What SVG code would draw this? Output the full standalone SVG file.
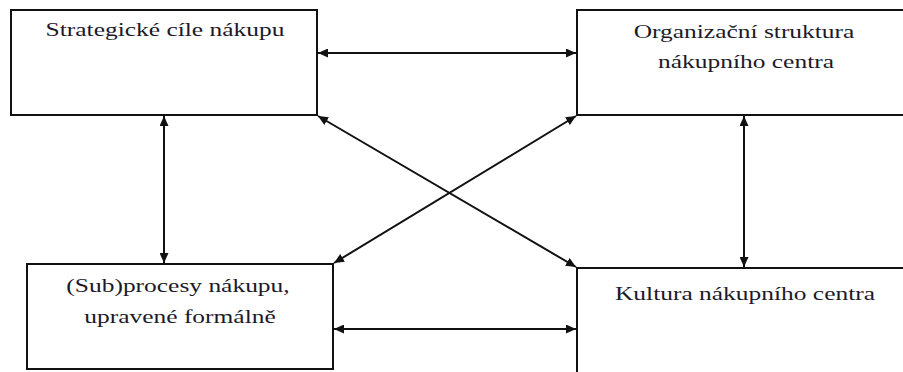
<svg xmlns="http://www.w3.org/2000/svg" width="903" height="372" viewBox="0 0 903 372">
  <style>
    .box { fill: #ffffff; stroke: #111111; stroke-width: 2; }
    .lbl { font-family: "Liberation Serif", "Times New Roman", serif; font-size: 19px; fill: #1c1a2a; text-anchor: middle; }
    .conn { stroke: #111111; stroke-width: 2; fill: none; marker-start: url(#head); marker-end: url(#head); }
  </style>
  <defs>
    <marker id="head" markerUnits="userSpaceOnUse" markerWidth="11" markerHeight="9" refX="10" refY="4.5" orient="auto-start-reverse">
      <path d="M0,0 L10,4.5 L0,9 z" fill="#111111"/>
    </marker>
  </defs>
  <rect width="903" height="372" fill="#ffffff"/>

  <!-- boxes; labels are set in a horizontally widened serif -->
  <g id="strategicke-cile">
    <rect class="box" x="11" y="10" width="306" height="105"/>
    <text class="lbl" transform="translate(165,36) scale(1.34,1)">Strategické cíle nákupu</text>
  </g>
  <g id="organizacni-struktura">
    <rect class="box" x="577" y="10" width="340" height="105"/>
    <text class="lbl" transform="translate(744,38) scale(1.34,1)">Organizační struktura</text>
    <text class="lbl" transform="translate(746,68) scale(1.34,1)">nákupního centra</text>
  </g>
  <g id="subprocesy">
    <rect class="box" x="27" y="264" width="306" height="105"/>
    <text class="lbl" transform="translate(178,292) scale(1.34,1)">(Sub)procesy nákupu,</text>
    <text class="lbl" transform="translate(180,323) scale(1.34,1)">upravené formálně</text>
  </g>
  <g id="kultura">
    <rect class="box" x="577" y="268" width="340" height="120"/>
    <text class="lbl" transform="translate(745,300) scale(1.34,1)">Kultura nákupního centra</text>
  </g>

  <!-- connectors -->
  <g id="connectors">
    <line class="conn" x1="318" y1="53" x2="576" y2="53"/>
    <line class="conn" x1="334" y1="329" x2="576" y2="329"/>
    <line class="conn" x1="164" y1="116" x2="164" y2="263"/>
    <line class="conn" x1="744" y1="116" x2="744" y2="267"/>
    <line class="conn" x1="318" y1="116" x2="576" y2="267"/>
    <line class="conn" x1="334" y1="263" x2="576" y2="116"/>
  </g>
</svg>
